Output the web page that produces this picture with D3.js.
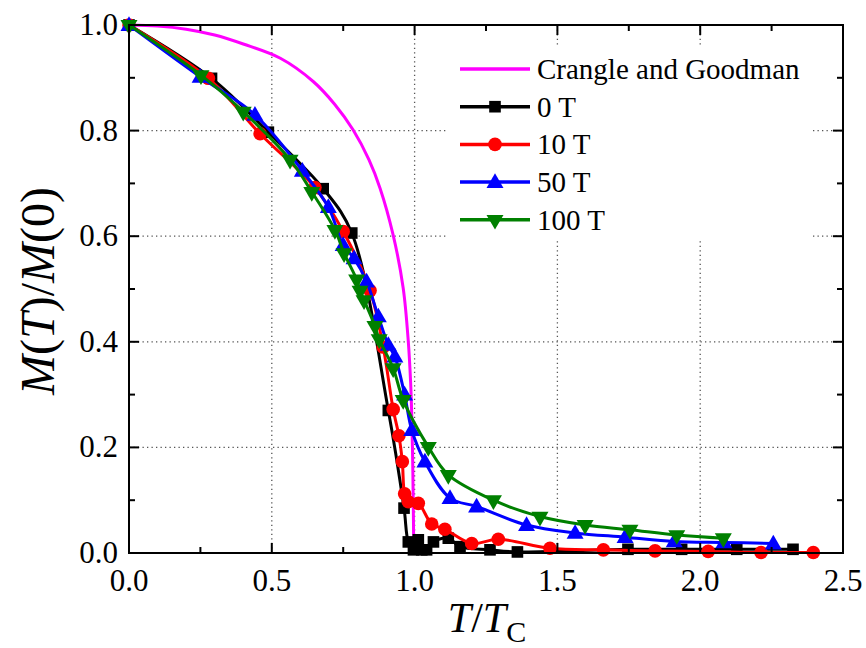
<!DOCTYPE html>
<html>
<head>
<meta charset="utf-8">
<script src="https://cdn.jsdelivr.net/npm/d3@7"></script>
<style>
  body { margin: 0; background: #fff; }
  svg text { font-family: "Liberation Serif", "Times New Roman", serif; fill: #000; }
</style>
</head>
<body>
<svg id="chart" width="866" height="648"></svg>
<script>
// Crangle and Goodman reference curve
const crangle = [
  [0, 1], [0.1, 0.998], [0.2, 0.992], [0.3, 0.981], [0.4, 0.964], [0.53, 0.937],
  [0.645, 0.893], [0.72, 0.85], [0.785, 0.801], [0.84, 0.745], [0.879, 0.691],
  [0.925, 0.602], [0.96, 0.502], [0.978, 0.40], [0.986, 0.324], [0.99, 0.26],
  [0.994, 0.15], [0.996, 0.06], [0.997, 0]
];

// measured series, [T/Tc, M(T)/M(0)]
const series0T = [
  [0, 1], [0.289, 0.899], [0.488, 0.797], [0.68, 0.69], [0.78, 0.606],
  [0.908, 0.27], [0.963, 0.085], [0.978, 0.021], [0.996, 0.006], [1.013, 0.025],
  [1.025, 0.006], [1.042, 0.006], [1.066, 0.021], [1.118, 0.028], [1.159, 0.012],
  [1.264, 0.006], [1.36, 0.002], [1.747, 0.007], [1.935, 0.007], [2.128, 0.007], [2.325, 0.007]
];
const series10T = [
  [0, 1], [0.278, 0.899], [0.459, 0.794], [0.651, 0.692], [0.75, 0.609],
  [0.844, 0.497], [0.89, 0.39], [0.925, 0.272], [0.945, 0.222], [0.957, 0.173],
  [0.965, 0.112], [0.978, 0.097], [1.013, 0.094], [1.06, 0.055], [1.106, 0.045],
  [1.2, 0.018], [1.293, 0.026], [1.474, 0.009], [1.661, 0.006], [1.842, 0.004],
  [2.028, 0.003], [2.213, 0.001], [2.396, 0.001]
];
const series50T = [
  [0, 1], [0.249, 0.902], [0.441, 0.83], [0.607, 0.724], [0.698, 0.655],
  [0.75, 0.583], [0.788, 0.558], [0.832, 0.514], [0.873, 0.448], [0.908, 0.394],
  [0.931, 0.372], [0.965, 0.30], [0.99, 0.233], [1.036, 0.173], [1.124, 0.104],
  [1.217, 0.088], [1.392, 0.053], [1.562, 0.038], [1.737, 0.030], [1.909, 0.022],
  [2.083, 0.020], [2.256, 0.018]
];
const series100T = [
  [0, 1], [0.252, 0.905], [0.40, 0.836], [0.564, 0.745], [0.64, 0.684],
  [0.721, 0.612], [0.753, 0.568], [0.797, 0.518], [0.809, 0.497], [0.823, 0.479],
  [0.861, 0.43], [0.876, 0.405], [0.925, 0.35], [0.96, 0.29], [1.048, 0.201],
  [1.118, 0.148], [1.276, 0.100], [1.439, 0.069], [1.597, 0.053], [1.754, 0.044],
  [1.918, 0.034], [2.081, 0.028]
];

const seriesNames = ['Crangle and Goodman', '0 T', '10 T', '50 T', '100 T'];
const seriesColors = ['#ff00ff', '#000000', '#ff0000', '#0000ff', '#008000'];
const seriesSymbols = [null, 'square', 'circle', 'up', 'down'];
const seriesData = [crangle, series0T, series10T, series50T, series100T];

const xTicks = [0, 0.5, 1.0, 1.5, 2.0, 2.5];
const yTicks = [0, 0.2, 0.4, 0.6, 0.8, 1.0];

const margin = { left: 129, right: 843, top: 25, bottom: 553 };
const svg = d3.select('#chart');

const x = d3.scaleLinear().domain([0, 2.5]).range([margin.left, margin.right]);
const y = d3.scaleLinear().domain([0, 1]).range([margin.bottom, margin.top]);

// dotted grid
const grid = svg.append('g');
grid.selectAll('line.vx')
  .data(xTicks.filter(d => d > 0 && d < 2.5))
  .enter().append('line')
  .attr('x1', d => x(d)).attr('x2', d => x(d))
  .attr('y1', y(0)).attr('y2', y(1))
  .attr('stroke', '#555').attr('stroke-width', 1.3)
  .attr('stroke-dasharray', '1.3,3.2');
grid.selectAll('line.hy')
  .data(yTicks.filter(d => d > 0 && d < 1))
  .enter().append('line')
  .attr('x1', x(0)).attr('x2', x(2.5))
  .attr('y1', d => y(d)).attr('y2', d => y(d))
  .attr('stroke', '#555').attr('stroke-width', 1.3)
  .attr('stroke-dasharray', '1.3,3.2');

// legend background hides the grid
svg.append('rect')
  .attr('x', 446).attr('y', 46).attr('width', 367).attr('height', 194)
  .attr('fill', '#fff');

// curves
const line = d3.line()
  .x(d => x(d[0]))
  .y(d => y(d[1]))
  .curve(d3.curveCatmullRom.alpha(0.5));

function symbolPath(kind) {
  if (kind === 'square') return d3.symbol().type(d3.symbolSquare).size(135)();
  if (kind === 'circle') return d3.symbol().type(d3.symbolCircle).size(145)();
  return d3.symbol().type(d3.symbolTriangle).size(125)();
}

function drawMarker(g, kind, cx, cy, color) {
  const p = g.append('path')
    .attr('d', symbolPath(kind))
    .attr('fill', color);
  if (kind === 'down') p.attr('transform', `translate(${cx},${cy}) rotate(180)`);
  else if (kind === 'up') p.attr('transform', `translate(${cx},${cy + 1})`);
  else p.attr('transform', `translate(${cx},${cy})`);
}

seriesData.forEach((data, i) => {
  const g = svg.append('g');
  g.append('path')
    .datum(data)
    .attr('fill', 'none')
    .attr('stroke', seriesColors[i])
    .attr('stroke-width', 3)
    .attr('stroke-linejoin', 'round')
    .attr('d', line);
  if (seriesSymbols[i]) {
    data.forEach(d => drawMarker(g, seriesSymbols[i], x(d[0]), y(d[1]), seriesColors[i]));
  }
});

// frame and ticks (inward, all four sides)
const xMinor = d3.range(0, 2.51, 0.25);
const yMinor = d3.range(0, 1.01, 0.1);
const isMajorX = d => Math.abs(d * 2 - Math.round(d * 2)) < 1e-6;
const isMajorY = d => Math.abs(d * 5 - Math.round(d * 5)) < 1e-6;

const axes = svg.append('g').attr('stroke', '#000').attr('stroke-width', 2);
xMinor.forEach(d => {
  const len = isMajorX(d) ? 10 : 6;
  axes.append('line').attr('x1', x(d)).attr('x2', x(d)).attr('y1', y(0)).attr('y2', y(0) - len);
  axes.append('line').attr('x1', x(d)).attr('x2', x(d)).attr('y1', y(1)).attr('y2', y(1) + len);
});
yMinor.forEach(d => {
  const len = isMajorY(d) ? 10 : 6;
  axes.append('line').attr('y1', y(d)).attr('y2', y(d)).attr('x1', x(0)).attr('x2', x(0) + len);
  axes.append('line').attr('y1', y(d)).attr('y2', y(d)).attr('x1', x(2.5)).attr('x2', x(2.5) - len);
});
axes.append('rect')
  .attr('x', x(0)).attr('y', y(1))
  .attr('width', x(2.5) - x(0)).attr('height', y(0) - y(1))
  .attr('fill', 'none');

// tick labels
svg.selectAll('text.xt')
  .data(xTicks)
  .enter().append('text')
  .attr('x', d => x(d))
  .attr('y', 591)
  .attr('text-anchor', 'middle')
  .attr('font-size', 31)
  .text(d3.format('.1f'));
svg.selectAll('text.yt')
  .data(yTicks)
  .enter().append('text')
  .attr('x', 118)
  .attr('y', d => y(d) + 10)
  .attr('text-anchor', 'end')
  .attr('font-size', 31)
  .text(d3.format('.1f'));

// axis titles
const xt = svg.append('text')
  .attr('x', 487).attr('y', 632)
  .attr('text-anchor', 'middle')
  .attr('font-size', 42);
xt.append('tspan').attr('font-style', 'italic').text('T');
xt.append('tspan').text('/');
xt.append('tspan').attr('font-style', 'italic').text('T');
xt.append('tspan').attr('font-size', 30).attr('dy', 10).text('C');

const yt = svg.append('text')
  .attr('transform', 'translate(54,291) rotate(-90)')
  .attr('text-anchor', 'middle')
  .attr('font-size', 48);
yt.append('tspan').attr('font-style', 'italic').text('M');
yt.append('tspan').text('(');
yt.append('tspan').attr('font-style', 'italic').text('T');
yt.append('tspan').text(')/');
yt.append('tspan').attr('font-style', 'italic').text('M');
yt.append('tspan').text('(0)');

// legend
const legend = svg.append('g');
seriesNames.forEach((name, i) => {
  const ly = 69 + i * 37.7;
  legend.append('line')
    .attr('x1', 460).attr('x2', 530)
    .attr('y1', ly).attr('y2', ly)
    .attr('stroke', seriesColors[i]).attr('stroke-width', 3.5);
  if (seriesSymbols[i]) drawMarker(legend, seriesSymbols[i], 495, ly, seriesColors[i]);
  legend.append('text')
    .attr('x', 537).attr('y', ly + 10)
    .attr('font-size', 29)
    .text(name);
});
</script>
</body>
</html>
